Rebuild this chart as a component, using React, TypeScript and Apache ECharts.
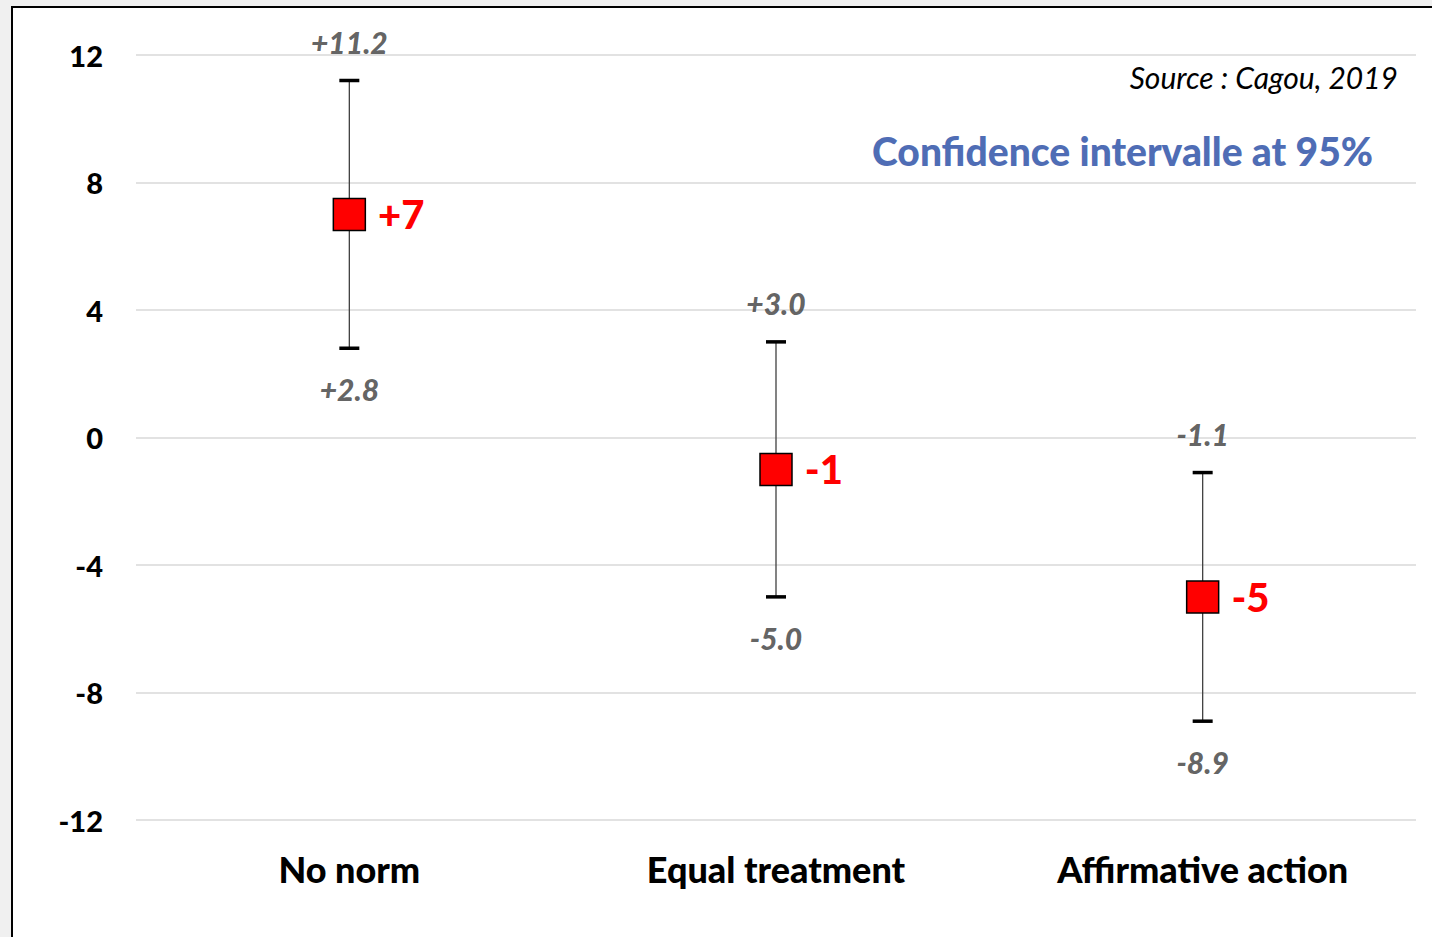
import React, { useEffect, useRef } from "react";
import * as echarts from "echarts";

const categories = ["No norm", "Equal treatment", "Affirmative action"];
const means = [7, -1, -5];
const meanLabels = ["+7", "-1", "-5"];
const upper = [11.2, 3.0, -1.1];
const lower = [2.8, -5.0, -8.9];
const upperLabels = ["+11.2", "+3.0", "-1.1"];
const lowerLabels = ["+2.8", "-5.0", "-8.9"];
const yTicks = { min: -12, max: 12, interval: 4 };

const FONT = "Lato, 'Open Sans', sans-serif";

export default function App() {
  const ref = useRef<HTMLDivElement>(null);
  useEffect(() => {
    if (!ref.current) return;
    const chart = echarts.init(ref.current, undefined, { renderer: "svg" });
    chart.setOption({
      animation: false,
      textStyle: { fontFamily: FONT },
      grid: { left: 123, right: 16, top: 47, bottom: 117 },
      xAxis: {
        type: "category",
        data: categories,
        boundaryGap: true,
        axisLine: { show: false },
        axisTick: { show: false },
        axisLabel: { fontSize: 36, fontWeight: 900, color: "#000", margin: 31, fontFamily: FONT },
      },
      yAxis: {
        type: "value",
        min: yTicks.min,
        max: yTicks.max,
        interval: yTicks.interval,
        axisLine: { show: false },
        axisTick: { show: false },
        splitLine: { lineStyle: { color: "#d9d9d9", width: 1.5 } },
        axisLabel: { fontSize: 29, fontWeight: 900, color: "#000", margin: 33, fontFamily: FONT },
      },
      graphic: [
        {
          type: "text",
          right: 34,
          top: 54,
          style: { text: "Source : Cagou, 2019", font: `italic 30px ${FONT}`, fill: "#000" },
        },
        {
          type: "text",
          right: 59,
          top: 123,
          style: { text: "Confidence intervalle at 95%", font: `900 39px ${FONT}`, fill: "#4f6db5" },
        },
      ],
      series: [
        {
          type: "custom",
          data: categories.map((_, i) => [i, lower[i], upper[i]]),
          renderItem: (params: any, api: any) => {
            const x = api.value(0);
            const lo = api.coord([x, api.value(1)]);
            const hi = api.coord([x, api.value(2)]);
            const half = 10;
            return {
              type: "group",
              children: [
                { type: "line", shape: { x1: hi[0], y1: hi[1], x2: lo[0], y2: lo[1] }, style: { stroke: "#404040", lineWidth: 1.3 } },
                { type: "line", shape: { x1: hi[0] - half, y1: hi[1], x2: hi[0] + half, y2: hi[1] }, style: { stroke: "#000", lineWidth: 3.5 } },
                { type: "line", shape: { x1: lo[0] - half, y1: lo[1], x2: lo[0] + half, y2: lo[1] }, style: { stroke: "#000", lineWidth: 3.5 } },
              ],
            };
          },
          z: 2,
        },
        {
          type: "scatter",
          data: means.map((v, i) => [i, v]),
          symbol: "rect",
          symbolSize: 32,
          itemStyle: { color: "#ff0000", borderColor: "#000", borderWidth: 1.5, opacity: 1 },
          label: {
            show: true,
            position: "right",
            distance: 12,
            formatter: (p: any) => meanLabels[p.dataIndex],
            fontSize: 40,
            fontWeight: 900,
            color: "#ff0000",
            fontFamily: FONT,
          },
          z: 5,
        },
        {
          type: "scatter",
          data: upper.map((v, i) => [i, v]),
          symbolSize: 0,
          label: {
            show: true,
            position: "top",
            distance: 24,
            formatter: (p: any) => upperLabels[p.dataIndex],
            fontSize: 30,
            fontWeight: 900,
            fontStyle: "italic",
            color: "#3a3a3a",
            fontFamily: FONT,
          },
        },
        {
          type: "scatter",
          data: lower.map((v, i) => [i, v]),
          symbolSize: 0,
          label: {
            show: true,
            position: "bottom",
            distance: 26,
            formatter: (p: any) => lowerLabels[p.dataIndex],
            fontSize: 30,
            fontWeight: 900,
            fontStyle: "italic",
            color: "#3a3a3a",
            fontFamily: FONT,
          },
        },
      ],
    });
    return () => chart.dispose();
  }, []);

  return (
    <div style={{ position: "fixed", left: 0, top: 0, width: 1432, height: 937, background: "#f0f0f0", overflow: "hidden" }}>
      <div
        style={{
          position: "absolute",
          left: 11,
          top: 6,
          width: 1421,
          height: 931,
          borderLeft: "2px solid #000",
          borderTop: "2px solid #000",
          background: "#fff",
          boxSizing: "border-box",
        }}
      >
        <div ref={ref} style={{ width: 1419, height: 929 }} />
      </div>
    </div>
  );
}
